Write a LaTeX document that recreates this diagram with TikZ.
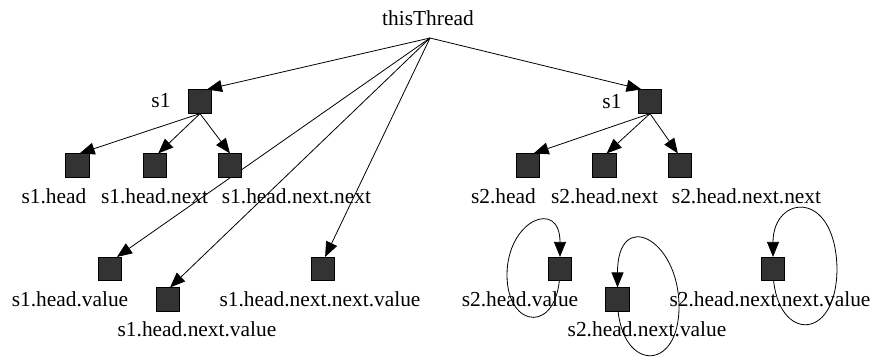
\documentclass[tikz,border=0pt]{standalone}
\usepackage{fontspec}
\setmainfont{Liberation Serif}
\usetikzlibrary{arrows.meta,backgrounds}

\tikzset{
  obj/.style={draw=black, fill=black!80, line width=0.7pt, inner sep=0pt, minimum size=23.5pt},
  lbl/.style={anchor=base, inner sep=0pt, font=\fontsize{21.4}{24}\selectfont},
  ref/.style={line width=0.8pt, -{Triangle[length=15pt,width=12pt]}},
}

\begin{document}
\begin{tikzpicture}[x=1pt, y=-1pt]
\useasboundingbox (0,0) rectangle (873,360);

% root of the reference tree
\coordinate (thr) at (430,38);
\node[lbl] (thrlbl) at (428,25) {thisThread};

% first stack object and its fields
\node[obj] (s1L) at (200,101.5) {};
\node[lbl] (s1Llbl) at (161,107) {s1};
\node[obj] (h)   at (77.5,165.5) {};
\node[obj] (hn)  at (155,165.5) {};
\node[obj] (hnn) at (230,165.5) {};
\node[lbl] (hlbl)   at (54,203) {s1.head};
\node[lbl] (hnlbl)  at (154.5,203) {s1.head.next};
\node[lbl] (hnnlbl) at (296.5,203) {s1.head.next.next};
\node[obj] (hv)   at (110,269) {};
\node[obj] (hnv)  at (168,299.5) {};
\node[obj] (hnnv) at (323,269) {};
\node[lbl] (hvlbl)   at (70,306) {s1.head.value};
\node[lbl] (hnvlbl)  at (197,336) {s1.head.next.value};
\node[lbl] (hnnvlbl) at (320,306) {s1.head.next.next.value};

% second stack object and its fields
\node[obj] (s1R) at (650,101.5) {};
\node[lbl] (s1Rlbl) at (612,108) {s1};
\node[obj] (s2h)   at (528,165.5) {};
\node[obj] (s2hn)  at (604.5,165.5) {};
\node[obj] (s2hnn) at (680,165.5) {};
\node[lbl] (s2hlbl)   at (503.5,203) {s2.head};
\node[lbl] (s2hnlbl)  at (604.5,203) {s2.head.next};
\node[lbl] (s2hnnlbl) at (746.5,203) {s2.head.next.next};
\node[obj] (s2hv)   at (560,269) {};
\node[obj] (s2hnv)  at (617.5,299.5) {};
\node[obj] (s2hnnv) at (773,269) {};
\node[lbl] (s2hvlbl)   at (520,306) {s2.head.value};
\node[lbl] (s2hnvlbl)  at (647,336) {s2.head.next.value};
\node[lbl] (s2hnnvlbl) at (770,306) {s2.head.next.next.value};

\begin{scope}[on background layer]
  % references held by the thread
  \draw[ref] (thr) -- (s1L.60);
  \draw[ref] (thr) -- (s1R.125);
  \draw[ref] (thr) -- (hv.60);
  \draw[ref] (thr) -- (hnv.80);
  \draw[ref] (thr) -- (hnnv.80);
  % fields of the first object
  \draw[ref] (s1L.south) -- (h.80);
  \draw[ref] (s1L.south) -- (hn.75);
  \draw[ref] (s1L.south) -- (hnn.north);
  % fields of the second object
  \draw[ref] (s1R.south) -- (s2h.65);
  \draw[ref] (s1R.south) -- (s2hn.80);
  \draw[ref] (s1R.south) -- (s2hnn.100);
  % self references
  \draw[ref] (s2hv.center) .. controls (560,335) and (507,330) .. (507,275)
                      .. controls (507,220) and (560,198) .. (s2hv.north);
  \draw[ref] (s2hnv.center) .. controls (617.5,372) and (680,375) .. (679,305)
                      .. controls (678,238) and (617.5,208) .. (s2hnv.north);
  \draw[ref] (s2hnnv.center) .. controls (773,342) and (837,345) .. (837,268)
                      .. controls (835,188) and (773,195) .. (s2hnnv.north);
\end{scope}
\end{tikzpicture}
\end{document}
